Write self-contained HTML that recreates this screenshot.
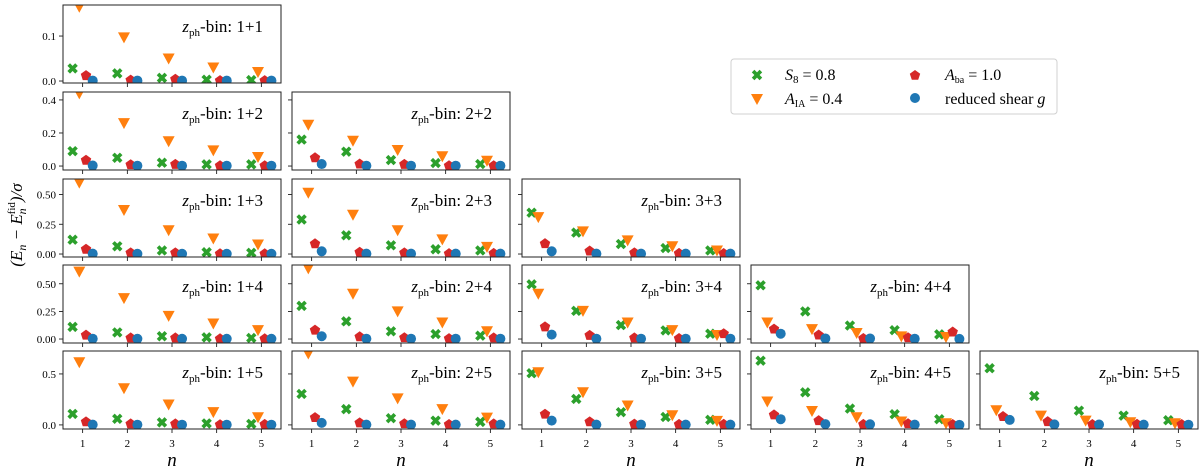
<!DOCTYPE html>
<html><head><meta charset="utf-8">
<style>
html,body{margin:0;padding:0;background:#fff;}
svg{display:block;font-family:"Liberation Serif","DejaVu Serif",serif;}
</style></head>
<body>
<svg id="fig" width="1200" height="473" viewBox="0 0 1200 473" xmlns="http://www.w3.org/2000/svg">
<g id="panels"></g>
<g>
<text transform="translate(22,225) rotate(-90)" text-anchor="middle" font-size="17" font-style="italic">(E<tspan font-size="12" dy="4">n</tspan><tspan dy="-4"> − E</tspan><tspan font-size="12" dy="4">n</tspan><tspan font-size="11" dy="-11" dx="-6" font-style="normal">fid</tspan><tspan dy="7">)/σ</tspan></text>
</g>
<g>
<rect x="731" y="59" width="326" height="55" rx="3" fill="#fff" stroke="#d0d0d0" stroke-width="1"/>
<g>
<path id="legX" fill="#2ca02c"/>
<text x="785" y="80" font-size="16"><tspan font-style="italic">S</tspan><tspan font-size="11" dy="3">8</tspan><tspan dy="-3"> = 0.8</tspan></text>
</g>
<g>
<path d="M751,94 L763,94 L757,105 Z" fill="#ff7f0e"/>
<text x="785" y="104" font-size="16"><tspan font-style="italic">A</tspan><tspan font-size="10" dy="3">IA</tspan><tspan dy="-3"> = 0.4</tspan></text>
</g>
<g>
<path d="M915,70 L920.2,73.8 L918.2,79.8 L911.8,79.8 L909.8,73.8 Z" fill="#d62728"/>
<text x="945" y="80" font-size="16"><tspan font-style="italic">A</tspan><tspan font-size="10" dy="3">ba</tspan><tspan dy="-3"> = 1.0</tspan></text>
</g>
<g>
<circle cx="915" cy="98" r="5" fill="#1f77b4"/>
<text x="945" y="104" font-size="16">reduced shear <tspan font-style="italic">g</tspan></text>
</g>
</g>
</svg>
<script>
// ---- data ----
const nValues = [1, 2, 3, 4, 5];
const binLabels = ["1+1","1+2","2+2","1+3","2+3","3+3","1+4","2+4","3+4","4+4","1+5","2+5","3+5","4+5","5+5"];
const panelRow = [0,1,1,2,2,2,3,3,3,3,4,4,4,4,4];
const panelCol = [0,0,1,0,1,2,0,1,2,3,0,1,2,3,4];
const s8Values = [
 [0.028,0.017,0.007,0.003,0.002],
 [0.09,0.05,0.02,0.01,0.01],
 [0.16,0.087,0.036,0.018,0.012],
 [0.12,0.065,0.03,0.015,0.01],
 [0.29,0.157,0.073,0.04,0.03],
 [0.347,0.18,0.084,0.05,0.03],
 [0.11,0.06,0.025,0.015,0.01],
 [0.3,0.16,0.07,0.045,0.03],
 [0.495,0.255,0.126,0.078,0.048],
 [0.486,0.25,0.122,0.08,0.042],
 [0.108,0.06,0.025,0.015,0.01],
 [0.304,0.155,0.066,0.042,0.03],
 [0.507,0.255,0.125,0.078,0.05],
 [0.63,0.32,0.16,0.105,0.056],
 [0.556,0.284,0.14,0.091,0.046]
];
const aiaValues = [
 [0.165,0.097,0.05,0.03,0.02],
 [0.44,0.26,0.15,0.095,0.055],
 [0.25,0.153,0.097,0.059,0.032],
 [0.6,0.37,0.2,0.13,0.08],
 [0.515,0.33,0.2,0.123,0.06],
 [0.31,0.19,0.115,0.065,0.03],
 [0.61,0.37,0.21,0.14,0.08],
 [0.64,0.41,0.25,0.15,0.07],
 [0.41,0.255,0.15,0.08,0.036],
 [0.15,0.09,0.054,0.024,0.018],
 [0.615,0.36,0.2,0.125,0.075],
 [0.7,0.425,0.26,0.155,0.072],
 [0.516,0.32,0.19,0.095,0.04],
 [0.23,0.137,0.075,0.033,0.016],
 [0.144,0.091,0.042,0.026,0.016]
];
const abaValues = [
 [0.012,0.002,0.004,0.001,0.001],
 [0.035,0.008,0.01,0.002,0.002],
 [0.05,0.012,0.01,0.002,0.002],
 [0.04,0.01,0.01,0.002,0.002],
 [0.086,0.015,0.01,0.003,0.005],
 [0.087,0.025,0.01,0.005,0.004],
 [0.035,0.01,0.01,0.002,0.002],
 [0.08,0.02,0.012,0.004,0.01],
 [0.11,0.033,0.01,0.005,0.048],
 [0.09,0.036,0.005,0.012,0.063],
 [0.03,0.01,0.01,0.002,0.005],
 [0.072,0.02,0.012,0.004,0.01],
 [0.105,0.03,0.008,0.005,0.006],
 [0.098,0.042,0.005,0.012,0.004],
 [0.082,0.032,0.004,0.006,0.004]
];
const shearValues = [
 [0.001,0.001,0.001,0.001,0.001],
 [0.003,0.002,0.002,0.002,0.002],
 [0.012,0.002,0.002,0.002,0.002],
 [0.003,0.002,0.002,0.002,0.002],
 [0.023,0.003,0.003,0.003,0.003],
 [0.023,0.003,0.003,0.003,0.003],
 [0.003,0.002,0.002,0.002,0.002],
 [0.025,0.003,0.003,0.003,0.003],
 [0.04,0.003,0.003,0.003,0.003],
 [0.048,0.005,0.005,0.003,0.001],
 [0.003,0.002,0.002,0.002,0.002],
 [0.02,0.003,0.003,0.003,0.003],
 [0.042,0.003,0.003,0.003,0.003],
 [0.056,0.008,0.006,0.003,0.001],
 [0.049,0.005,0.004,0.003,0.002]
];
const rowYMin = [-0.0044, -0.024, -0.025, -0.036, -0.04];
const rowYMax = [0.169, 0.448, 0.63, 0.67, 0.725];
const rowTicks = [[0.0,0.1],[0.0,0.2,0.4],[0.0,0.25,0.5],[0.0,0.25,0.5],[0.0,0.5]];
const rowTickLabels = [["0.0","0.1"],["0.0","0.2","0.4"],["0.00","0.25","0.50"],["0.00","0.25","0.50"],["0.0","0.5"]];
const xTickLabels = ["1","2","3","4","5"];

// ---- layout ----
const NS = "http://www.w3.org/2000/svg";
const colX = [63, 292, 522, 751, 980];
const rowY = [5, 92, 179, 265, 351];
const PW = 218, PH = 78;
const XMIN = 0.56, XMAX = 5.44;
const offs = [-0.225, -0.075, 0.075, 0.225];
const root = document.getElementById('panels');
function mk(tag, attrs, parent){ const e=document.createElementNS(NS,tag); for(const k in attrs) e.setAttribute(k,attrs[k]); (parent||root).appendChild(e); return e; }

function markerPath(kind, cx, cy){
  if(kind===0){ const a=2.6,b=5.2; // X marker
    return `M${cx-b},${cy-b+a} L${cx-b+a},${cy-b} L${cx},${cy-a} L${cx+b-a},${cy-b} L${cx+b},${cy-b+a} L${cx+a},${cy} L${cx+b},${cy+b-a} L${cx+b-a},${cy+b} L${cx},${cy+a} L${cx-b+a},${cy+b} L${cx-b},${cy+b-a} L${cx-a},${cy} Z`; }
  if(kind===1){ return `M${cx-6},${cy-5} L${cx+6},${cy-5} L${cx},${cy+6} Z`; }
  if(kind===2){ let d=""; for(let i=0;i<5;i++){ const ang=-Math.PI/2+i*2*Math.PI/5; d+=(i?"L":"M")+(cx+5.5*Math.cos(ang)).toFixed(2)+","+(cy+5.5*Math.sin(ang)).toFixed(2);} return d+"Z"; }
}
document.getElementById('legX').setAttribute('d', markerPath(0,757,75));
const colors = ["#2ca02c","#ff7f0e","#d62728","#1f77b4"];
const seriesNames = ["s8","aia","aba","reduced-shear"];
const allSeries = [s8Values, aiaValues, abaValues, shearValues];

for(let p=0;p<binLabels.length;p++){
  const r=panelRow[p], c=panelCol[p];
  const x0=colX[c], y0=rowY[r];
  const xs = v => x0 + (v-XMIN)/(XMAX-XMIN)*PW;
  const ys = v => y0 + PH - (v-rowYMin[r])/(rowYMax[r]-rowYMin[r])*PH;
  const g = mk('g',{});
  
  
  const cid='clip'+p;
  const cp=mk('clipPath',{id:cid},g); mk('rect',{x:x0,y:y0,width:PW,height:PH},cp);
  for(let i=0;i<nValues.length;i++){
    const tx=xs(nValues[i]);
    mk('line',{x1:tx,x2:tx,y1:y0+PH,y2:y0+PH+4,stroke:'#000','stroke-width':0.8},g);
    if(r===4){
      const t=mk('text',{x:tx,y:y0+PH+18,'text-anchor':'middle','font-size':11},g);
      t.textContent=xTickLabels[i];
      
      
    }
  }
  for(let i=0;i<rowTicks[r].length;i++){
    const ty=ys(rowTicks[r][i]);
    mk('line',{x1:x0-4,x2:x0,y1:ty,y2:ty,stroke:'#000','stroke-width':0.8},g);
    if(c===0){
      const t=mk('text',{x:x0-7,y:ty+4,'text-anchor':'end','font-size':11},g);
      t.textContent=rowTickLabels[r][i];
      
      
    }
  }
  const mg=mk('g',{'clip-path':`url(#${cid})`},g);
  for(let s=0;s<4;s++){
    const vals=allSeries[s][p];
    for(let i=0;i<nValues.length;i++){
      const cx=xs(nValues[i]+offs[s]), cy=ys(vals[i]);
      let m;
      if(s===3) m=mk('circle',{cx:cx,cy:cy,r:5,fill:colors[s]},mg);
      else m=mk('path',{d:markerPath(s,cx,cy),fill:colors[s]},mg);
      
      
    }
  }
  mk('rect',{x:x0,y:y0,width:PW,height:PH,fill:'none',stroke:'#222','stroke-width':1},g);
  const lab=mk('text',{x:x0+PW-18,y:y0+27,'text-anchor':'end','font-size':17},g);
  lab.innerHTML='<tspan font-style="italic">z</tspan><tspan font-size="11" dy="4">ph</tspan><tspan dy="-4">-bin: '+binLabels[p]+'</tspan>';
  
  
}
for(let c=0;c<5;c++){
  const t=mk('text',{x:colX[c]+PW/2,y:466,'text-anchor':'middle','font-size':19,'font-style':'italic'});
  t.textContent='n';
  
  
}
</script>
</body></html>
